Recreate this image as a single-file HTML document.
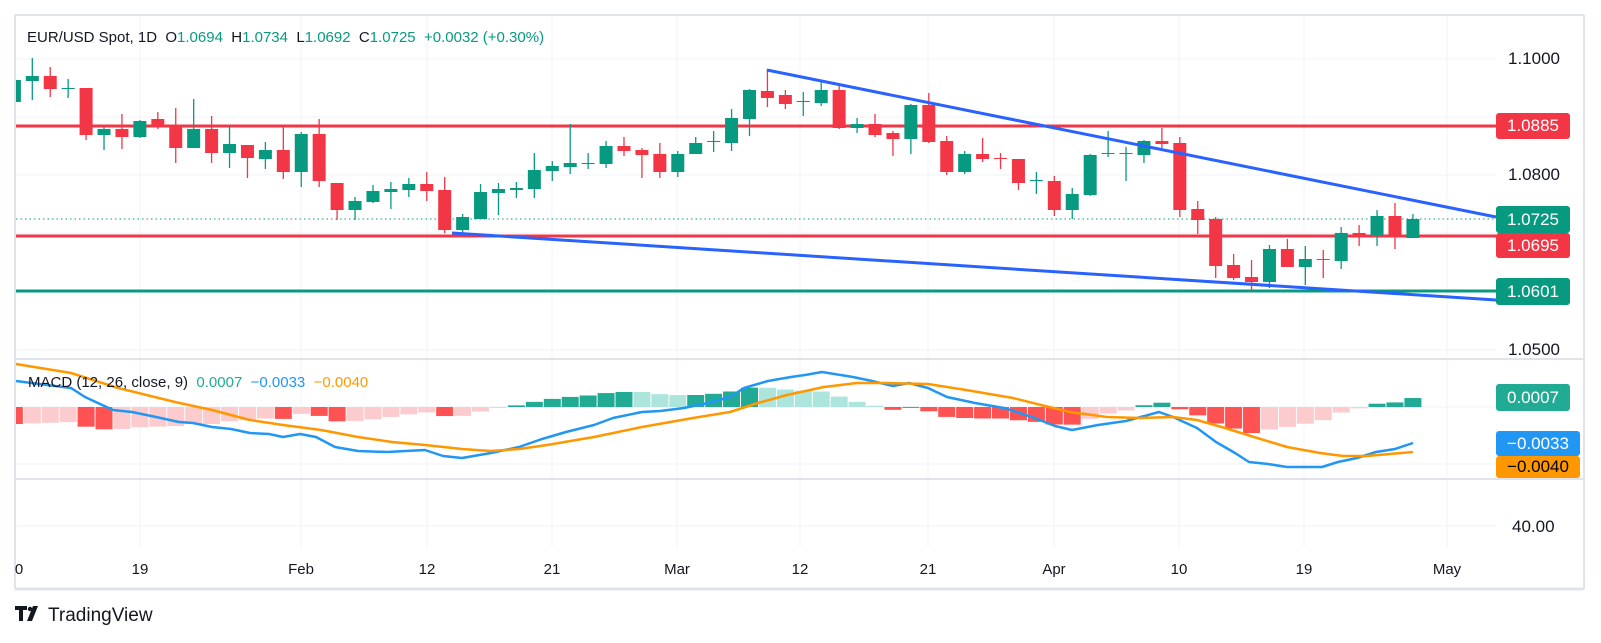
<!DOCTYPE html>
<html><head><meta charset="utf-8"><style>
body{margin:0;background:#fff;width:1601px;height:643px;overflow:hidden;font-family:"Liberation Sans",sans-serif;}
#w{position:relative;width:1601px;height:643px;}
svg{position:absolute;left:0;top:0}
.t{position:absolute;font-size:15px;color:#131722;white-space:nowrap}
.g{color:#089981}
.lb{position:absolute;left:1496px;width:74px;font-size:17px;color:#fff;text-align:center;border-radius:3px}
.ax{position:absolute;font-size:15px;color:#131722;transform:translateX(-50%)}
</style></head><body><div id="w">
<svg id="s" width="1601" height="643"></svg>
<div class="t" style="left:27px;top:29px">EUR/USD Spot, 1D&nbsp; O<span class="g">1.0694</span>&nbsp; H<span class="g">1.0734</span>&nbsp; L<span class="g">1.0692</span>&nbsp; C<span class="g">1.0725</span>&nbsp; <span class="g">+0.0032 (+0.30%)</span></div>
<div class="t" style="left:28px;top:374px">MACD (12, 26, close, 9)&nbsp; <span style="color:#22ab94">0.0007</span>&nbsp; <span style="color:#2196f3">−0.0033</span>&nbsp; <span style="color:#ff9800">−0.0040</span></div>
<div class="t" style="left:1508px;top:49px;font-size:17px">1.1000</div>
<div class="t" style="left:1508px;top:165px;font-size:17px">1.0800</div>
<div class="t" style="left:1508px;top:340px;font-size:17px">1.0500</div>
<div class="t" style="left:1512px;top:517px;font-size:17px">40.00</div>
<div class="lb" style="top:113px;height:26px;line-height:26px;background:#f23645">1.0885</div>
<div class="lb" style="top:206px;height:27px;line-height:27px;background:#089981">1.0725</div>
<div class="lb" style="top:233px;height:25px;line-height:25px;background:#f23645">1.0695</div>
<div class="lb" style="top:278px;height:27px;line-height:27px;background:#089981">1.0601</div>
<div class="lb" style="top:384px;height:27px;line-height:27px;background:#22ab94">0.0007</div>
<div class="lb" style="top:431px;height:25px;line-height:25px;background:#2196f3;width:84px">−0.0033</div>
<div class="lb" style="top:456px;height:22px;line-height:22px;background:#ff9800;color:#000;width:84px">−0.0040</div>
<div class="ax" style="left:19px;top:561px">0</div>
<div class="ax" style="left:140px;top:561px">19</div>
<div class="ax" style="left:301px;top:561px">Feb</div>
<div class="ax" style="left:427px;top:561px">12</div>
<div class="ax" style="left:552px;top:561px">21</div>
<div class="ax" style="left:677px;top:561px">Mar</div>
<div class="ax" style="left:800px;top:561px">12</div>
<div class="ax" style="left:928px;top:561px">21</div>
<div class="ax" style="left:1054px;top:561px">Apr</div>
<div class="ax" style="left:1179px;top:561px">10</div>
<div class="ax" style="left:1304px;top:561px">19</div>
<div class="ax" style="left:1447px;top:561px">May</div>
<div class="t" style="left:48px;top:605px;font-size:19px;color:#131722">TradingView</div>
</div>
<script>
var s=document.getElementById('s'),h='';
function L(x1,y1,x2,y2,c,w,d){h+='<line x1="'+x1+'" y1="'+y1+'" x2="'+x2+'" y2="'+y2+'" stroke="'+c+'" stroke-width="'+w+'"'+(d?' stroke-dasharray="'+d+'"':'')+'/>';}
function R(x,y,w,hh,c){h+='<rect x="'+x+'" y="'+y+'" width="'+w+'" height="'+Math.max(hh,1)+'" fill="'+c+'"/>';}
var gx=[140,301,427,552,677,800,928,1054,1179,1304,1447];
gx.forEach(function(x){L(x,15,x,548,'#f0f3fa',1);});
[59,117,175,233,291,350,407,464,526].forEach(function(y){L(15,y,1496,y,'#f0f3fa',1);});
L(15,15,1584,15,'#e0e3eb',2);L(15,15,15,589,'#e0e3eb',2);L(1584,15,1584,589,'#e0e3eb',2);L(15,589,1584,589,'#e0e3eb',3);
L(15,359,1584,359,'#e0e3eb',2);L(15,479,1584,479,'#e0e3eb',2);
// logo
h+='<path d="M15 606h12v4h-4v11h-4v-11h-4z" fill="#131722"/><circle cx="30" cy="609" r="2.2" fill="#131722"/><path d="M33 606h5l-6 15h-5z" fill="#131722"/>';
var G='#089981',D='#f23645';
var c=[[80,102,80,102,G],[76,81,58,100,G],[76,89,67,97,D],[88,89,79,98,G],[88,135,88,140,D],[129,135,127,150,G],[129,137,114,149,D],[121,137,120,138,G],[119,125,112,129,D],[125,148,108,163,D],[129,148,99,148,G],[129,153,116,163,D],[144,153,126,168,G],[145,158,145,178,D],[150,159,142,169,G],[150,172,127,179,D],[134,172,132,187,G],[134,181,119,187,D],[183,210,183,220,D],[201,210,197,220,G],[191,202,185,203,G],[189,192,182,209,G],[184,190,178,197,G],[184,191,172,201,D],[190,230,177,233,D],[217,230,214,235,G],[192,219,184,219,G],[189,193,183,215,G],[188,190,182,198,G],[170,189,153,198,G],[166,171,161,181,G],[163,167,124,174,G],[163,164,153,169,G],[146,164,141,168,G],[146,151,137,156,D],[150,155,148,178,D],[154,172,143,178,D],[154,172,151,177,G],[143,154,137,154,G],[141,142,131,152,G],[118,143,109,151,G],[90,119,89,136,G],[91,98,69,107,D],[95,104,90,109,D],[101,102,92,116,G],[90,103,82,106,G],[90,128,86,129,D],[124,128,118,133,G],[124,135,114,137,D],[133,139,131,156,D],[105,139,104,154,G],[105,142,93,143,D],[141,172,136,175,D],[154,172,151,174,G],[154,159,138,162,D],[158,159,153,169,D],[159,183,159,190,D],[180,181,172,194,G],[181,210,176,216,D],[194,210,188,219,G],[155,195,154,196,G],[153,154,131,157,G],[153,154,147,181,G],[141,155,140,163,G],[141,144,128,148,D],[143,210,137,217,D],[209,220,201,234,D],[219,266,217,278,D],[265,278,254,280,D],[277,282,260,291,D],[249,282,245,288,G],[249,267,239,267,D],[259,267,246,285,G],[259,260,250,278,D],[233,261,227,269,G],[233,236,225,246,D],[216,235,210,246,G],[216,235,203,249,D],[219,238,214,238,G]];
L(16,126,1496,126,'#f23645',3);
L(16,236,1496,236,'#f23645',3);
L(16,291,1496,291,'#089981',3);
L(16,219,1496,219,'#089981',1,'1.5 3');
c.forEach(function(k,i){var x=14.37+17.93*i;var x0=Math.max(x-6.5,16);if(x>=16)L(x,k[2],x,k[3],k[4],1.3);R(x0,k[0],x+6.5-x0,k[1]-k[0],k[4]);});
L(767,70,1496,217,'#2962ff',3);
L(452,233,1496,300,'#2962ff',3);
var B=[[16,381],[71,388],[85,397],[113,410],[132,412],[156,417],[179,422],[193,423],[212,427],[231,429],[250,433],[269,434],[283,437],[300,434],[316,437],[335,447],[358,451],[387,452],[425,450],[443,456],[462,458],[491,453],[519,447],[542,439],[566,432],[594,425],[613,418],[642,412],[660,411],[684,408],[708,403],[730,397],[744,388],[768,381],[791,377],[805,375],[822,372],[853,377],[872,381],[893,386],[909,383],[928,388],[947,397],[975,403],[1004,408],[1032,417],[1055,426],[1072,430],[1098,425],[1126,421],[1159,412],[1173,417],[1197,428],[1216,442],[1235,453],[1249,462],[1268,464],[1287,467],[1322,467],[1338,462],[1357,458],[1376,452],[1395,449],[1413,443]];
var O=[[16,364],[71,373],[118,388],[175,402],[212,410],[250,420],[283,425],[321,430],[358,437],[392,442],[425,445],[462,449],[491,451],[519,449],[547,445],[594,437],[642,427],[693,418],[730,412],[758,403],[787,395],[824,387],[857,383],[886,383],[928,384],[966,390],[1013,398],[1041,405],[1070,412],[1107,417],[1140,418],[1173,417],[1197,420],[1225,428],[1254,437],[1287,447],[1320,453],[1343,456],[1367,456],[1413,452]];
function it(a,x){for(var i=1;i<a.length;i++){if(x<=a[i][0]){var p=a[i-1],q=a[i];return p[1]+(q[1]-p[1])*(x-p[0])/((q[0]-p[0])||1);}}return a[a.length-1][1];}
var prev=null;
for(var i=0;i<c.length;i++){var x=14.37+17.93*i;var xx=Math.max(x,16);var v=it(O,xx)-it(B,xx);var col;
if(v>=0){col=(prev===null||v>=prev)?'#22ab94':'#ace5dc';}else{col=(prev===null||v<=prev)?'#ff5252':'#fccbcd';}
prev=v;var x0=Math.max(x-8.5,16),x1=x+8.5;
if(v>=0)R(x0,407-v,x1-x0,v,col);else R(x0,407,x1-x0,-v,col);}
function P(a,col){h+='<polyline fill="none" stroke="'+col+'" stroke-width="2.5" stroke-linejoin="round" points="'+a.map(function(p){return p.join(',')}).join(' ')+'"/>';}
P(B,'#2196f3');P(O,'#ff9800');
s.innerHTML=h;
</script>
</body></html>
